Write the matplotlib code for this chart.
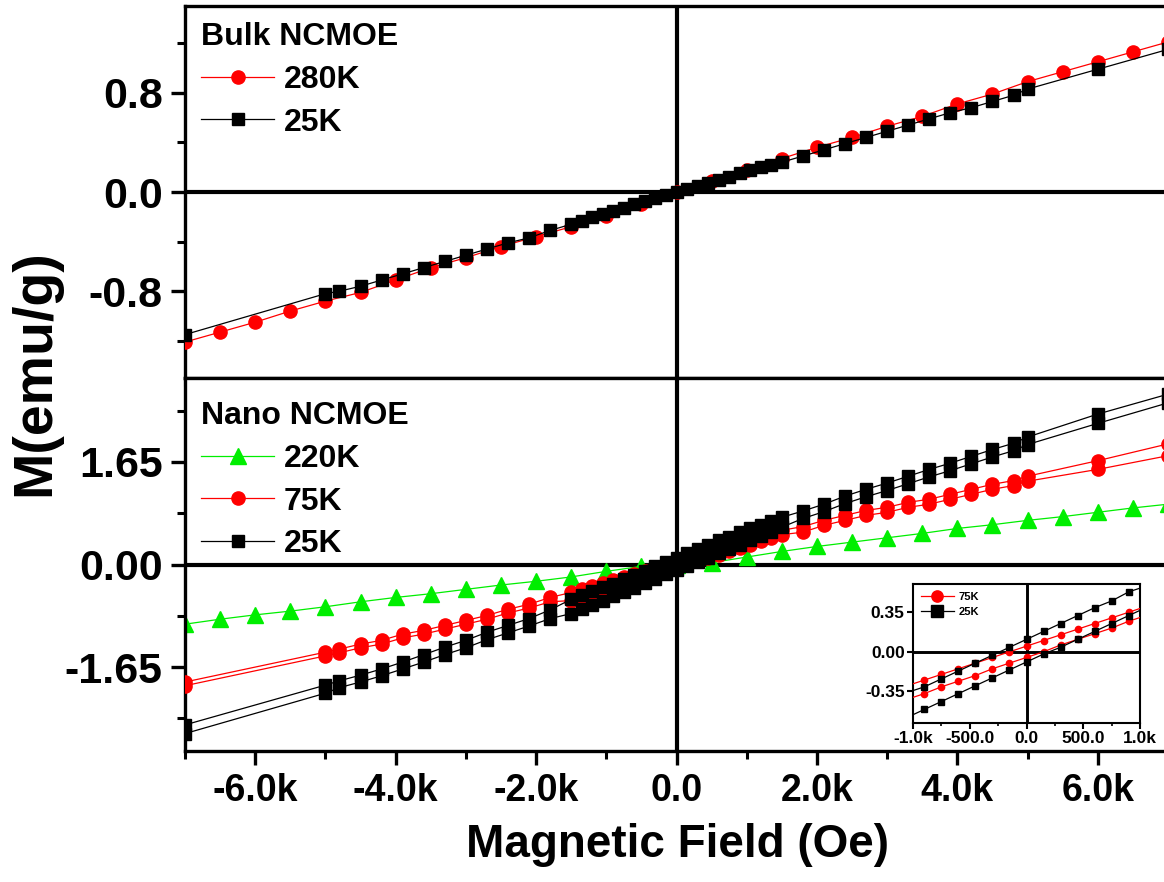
"""
M-H loops of bulk and nano NCMOE, two stacked panels plus a low-field inset.
"""

import matplotlib
matplotlib.use('Agg')
from matplotlib import pyplot as plt
from matplotlib.ticker import MultipleLocator, FuncFormatter

plt.rcParams['font.family'] = ['Liberation Sans', 'DejaVu Sans']
plt.rcParams['font.weight'] = 'bold'

# ---- data (field in Oe, M in emu/g) ----

# fields of the coarse / dense parts of the loops
field_neg = [-7000, -5000, -4800, -4500, -4200, -3900, -3600, -3300, -3000,
             -2700, -2400, -2100, -1800]
field_dense = [-1500, -1350, -1200, -1050, -900, -750, -600, -450, -300, -150,
               0, 150, 300, 450, 600, 750, 900, 1050, 1200, 1350, 1500]
field_pos = [1800, 2100, 2400, 2700, 3000, 3300, 3600, 3900, 4200, 4500,
             4800, 5000, 6000, 7000]
field_loop = field_neg + field_dense + field_pos

# fields measured every 500 Oe
field_500 = [-7000, -6500, -6000, -5500, -5000, -4500, -4000, -3500, -3000,
             -2500, -2000, -1500, -1000, -500, 0, 500, 1000, 1500, 2000,
             2500, 3000, 3500, 4000, 4500, 5000, 5500, 6000, 6500, 7000]

# bulk NCMOE
bulk_280K = [-1.21, -1.13, -1.05, -0.96, -0.88, -0.81, -0.71, -0.61, -0.53,
             -0.44, -0.36, -0.28, -0.19, -0.10, 0.00, 0.09, 0.18, 0.27, 0.36,
             0.44, 0.53, 0.61, 0.71, 0.79, 0.89, 0.97, 1.05, 1.13, 1.21]
bulk_25K = ([-1.15, -0.82, -0.80, -0.76, -0.71, -0.66, -0.61, -0.56, -0.51,
             -0.46, -0.41, -0.37, -0.31] +
            [-0.26, -0.23, -0.205, -0.18, -0.155, -0.13, -0.10, -0.075, -0.05,
             -0.025, 0.0, 0.025, 0.05, 0.075, 0.10, 0.125, 0.15, 0.175, 0.20,
             0.22, 0.24] +
            [0.29, 0.34, 0.39, 0.44, 0.49, 0.54, 0.59, 0.64, 0.68, 0.73, 0.78,
             0.83, 0.99, 1.15])

# nano NCMOE, 220K (no loop)
nano_220K = [-0.96, -0.88, -0.81, -0.75, -0.68, -0.60, -0.53, -0.47, -0.40,
             -0.33, -0.27, -0.20, -0.11, -0.03, 0.00, 0.03, 0.12, 0.21, 0.29,
             0.36, 0.43, 0.50, 0.58, 0.64, 0.71, 0.77, 0.84, 0.91, 0.97]

# nano NCMOE, 75K loop (upper and lower branch)
nano_75K_up = ([-1.89, -1.41, -1.36, -1.28, -1.22, -1.12, -1.06, -0.98, -0.90,
                -0.82, -0.72, -0.64, -0.53] +
               [-0.45, -0.40, -0.35, -0.30, -0.25, -0.20, -0.15, -0.10, -0.05,
                0.00, 0.05, 0.10, 0.15, 0.20, 0.25, 0.30, 0.35, 0.40, 0.45,
                0.50, 0.55] +
               [0.61, 0.71, 0.79, 0.87, 0.92, 1.00, 1.05, 1.13, 1.21, 1.29,
                1.35, 1.42, 1.67, 1.94])
nano_75K_dn = ([-1.95, -1.47, -1.42, -1.34, -1.28, -1.18, -1.12, -1.04, -0.96,
                -0.88, -0.78, -0.70, -0.60] +
               [-0.58, -0.52, -0.47, -0.42, -0.37, -0.31, -0.26, -0.21, -0.15,
                -0.10, -0.05, 0.00, 0.06, 0.11, 0.16, 0.21, 0.27, 0.32, 0.37,
                0.42, 0.48] +
               [0.52, 0.63, 0.71, 0.79, 0.84, 0.92, 0.97, 1.05, 1.13, 1.21,
                1.27, 1.34, 1.53, 1.75])

# nano NCMOE, 25K loop (upper and lower branch)
nano_25K_up = ([-2.58, -1.94, -1.87, -1.78, -1.68, -1.57, -1.45, -1.33, -1.22,
                -1.09, -0.98, -0.87, -0.73] +
               [-0.56, -0.49, -0.42, -0.36, -0.31, -0.24, -0.17, -0.10, -0.03,
                0.04, 0.11, 0.18, 0.25, 0.32, 0.39, 0.45, 0.53, 0.58, 0.64,
                0.70, 0.76] +
               [0.86, 0.97, 1.10, 1.21, 1.31, 1.42, 1.53, 1.63, 1.74, 1.85,
                1.95, 2.05, 2.42, 2.74])
nano_25K_dn = ([-2.72, -2.07, -1.98, -1.89, -1.79, -1.68, -1.57, -1.45, -1.34,
                -1.21, -1.10, -0.99, -0.87] +
               [-0.79, -0.72, -0.65, -0.58, -0.51, -0.44, -0.37, -0.30, -0.23,
                -0.16, -0.09, -0.02, 0.04, 0.11, 0.18, 0.25, 0.32, 0.39, 0.46,
                0.53, 0.60] +
               [0.74, 0.85, 0.98, 1.09, 1.19, 1.30, 1.41, 1.51, 1.62, 1.73,
                1.83, 1.93, 2.27, 2.60])

GREEN = '#00ee00'
RED = '#ff0000'
BLACK = '#000000'


def field_label(v, pos):
    if v == 0:
        return '0.0'
    return '%.1fk' % (v / 1000.0)


def style_axes(ax, lw=2.4):
    for side in ax.spines:
        ax.spines[side].set_linewidth(lw)
    ax.axhline(0, color='black', lw=lw + 0.6, zorder=1)
    ax.axvline(0, color='black', lw=lw + 0.6, zorder=1)


def plot_loop(ax, up, dn, color, marker, label, ms):
    ax.plot(field_loop, up, color=color, marker=marker, ms=ms, mec=color,
            lw=0.9, label=label, zorder=3)
    ax.plot(field_loop, dn, color=color, marker=marker, ms=ms, mec=color,
            lw=0.9, zorder=3)


legend_opts = dict(loc='upper left', frameon=False, alignment='left',
                   title_fontproperties={'weight': 'bold', 'size': 23},
                   prop={'weight': 'bold', 'size': 23},
                   handlelength=2.3, handletextpad=0.3, labelspacing=0.4,
                   borderaxespad=0.2, borderpad=0.3)

fig = plt.figure(figsize=(11.64, 8.82), dpi=100)

W, H = 1164.0, 882.0
ax_top = fig.add_axes([185 / W, 1 - 378 / H, 983 / W, 372 / H])
ax_bot = fig.add_axes([185 / W, 1 - 751 / H, 983 / W, 373 / H])

# ---- top panel: bulk ----
style_axes(ax_top)
ax_top.plot(field_500, bulk_280K, color=RED, marker='o', ms=9.5, mec=RED,
            lw=0.9, label='280K', zorder=3)
ax_top.plot(field_loop, bulk_25K, color=BLACK, marker='s', ms=9, lw=0.9,
            label='25K', zorder=4)
ax_top.set_xlim(-7000, 7000)
ax_top.set_ylim(-1.5, 1.5)
ax_top.yaxis.set_major_locator(MultipleLocator(0.8))
ax_top.yaxis.set_minor_locator(MultipleLocator(0.4))
ax_top.yaxis.set_major_formatter(FuncFormatter(lambda v, p: '%.1f' % v))

ax_top.legend(title='Bulk NCMOE', bbox_to_anchor=(0, 1), **legend_opts)

# ---- bottom panel: nano ----
style_axes(ax_bot)
ax_bot.plot(field_500, nano_220K, color=GREEN, marker='^', ms=11, mec=GREEN,
            lw=0.9, label='220K', zorder=2)
plot_loop(ax_bot, nano_75K_up, nano_75K_dn, RED, 'o', '75K', 9.5)
plot_loop(ax_bot, nano_25K_up, nano_25K_dn, BLACK, 's', '25K', 9)
ax_bot.set_xlim(-7000, 7000)
ax_bot.set_ylim(-3.0, 3.0)
ax_bot.yaxis.set_major_locator(MultipleLocator(1.65))
ax_bot.yaxis.set_minor_locator(MultipleLocator(0.825))
ax_bot.yaxis.set_major_formatter(FuncFormatter(lambda v, p: '%.2f' % v))

ax_bot.legend(title='Nano NCMOE', bbox_to_anchor=(0, 1 - 7 / 373.0),
              **legend_opts)

for ax in (ax_top, ax_bot):
    ax.xaxis.set_major_locator(MultipleLocator(2000))
    ax.xaxis.set_minor_locator(MultipleLocator(1000))
    ax.xaxis.set_major_formatter(FuncFormatter(field_label))
    ax.tick_params(which='major', direction='out', length=10, width=2.4,
                   top=False, right=False)
    ax.tick_params(which='minor', direction='out', length=6, width=2.2,
                   top=False, right=False)
    ax.tick_params(axis='y', labelsize=31, pad=6)
    ax.tick_params(axis='x', labelsize=27, pad=6)

ax_top.tick_params(axis='x', labelbottom=False)

fig.text(35 / W, 1 - 373 / H, 'M(emu/g)', rotation=90, ha='center',
         va='center', fontsize=40, fontweight='bold')
fig.text(677 / W, 1 - 845 / H, 'Magnetic Field (Oe)', ha='center',
         va='center', fontsize=33, fontweight='bold')

# ---- inset: low field part of the nano loops ----
ins = fig.add_axes([913 / W, 1 - 723 / H, 227 / W, 139 / H])
style_axes(ins, lw=1.5)
plot_loop(ins, nano_75K_up, nano_75K_dn, RED, 'o', '75K', 4.5)
plot_loop(ins, nano_25K_up, nano_25K_dn, BLACK, 's', '25K', 4.5)
ins.set_xlim(-1000, 1000)
ins.set_ylim(-0.63, 0.6)
ins.xaxis.set_major_locator(MultipleLocator(500))
ins.xaxis.set_minor_locator(MultipleLocator(250))
ins.xaxis.set_major_formatter(
    FuncFormatter(lambda v, p: '0.0' if v == 0 else
                  ('%.1fk' % (v / 1000.0) if abs(v) >= 1000 else '%.1f' % v)))
ins.yaxis.set_major_locator(MultipleLocator(0.35))
ins.yaxis.set_major_formatter(FuncFormatter(lambda v, p: '%.2f' % v))
ins.tick_params(which='major', direction='out', length=4, width=1.5,
                labelsize=12.5, pad=2)
ins.tick_params(which='minor', direction='out', length=2.5, width=1.2)
ins.legend(loc='upper left', frameon=False, prop={'weight': 'bold', 'size': 8},
           handlelength=3, handletextpad=0.4, markerscale=1.8,
           labelspacing=0.5, borderaxespad=0.3)

plt.savefig('out.png', dpi=100)
